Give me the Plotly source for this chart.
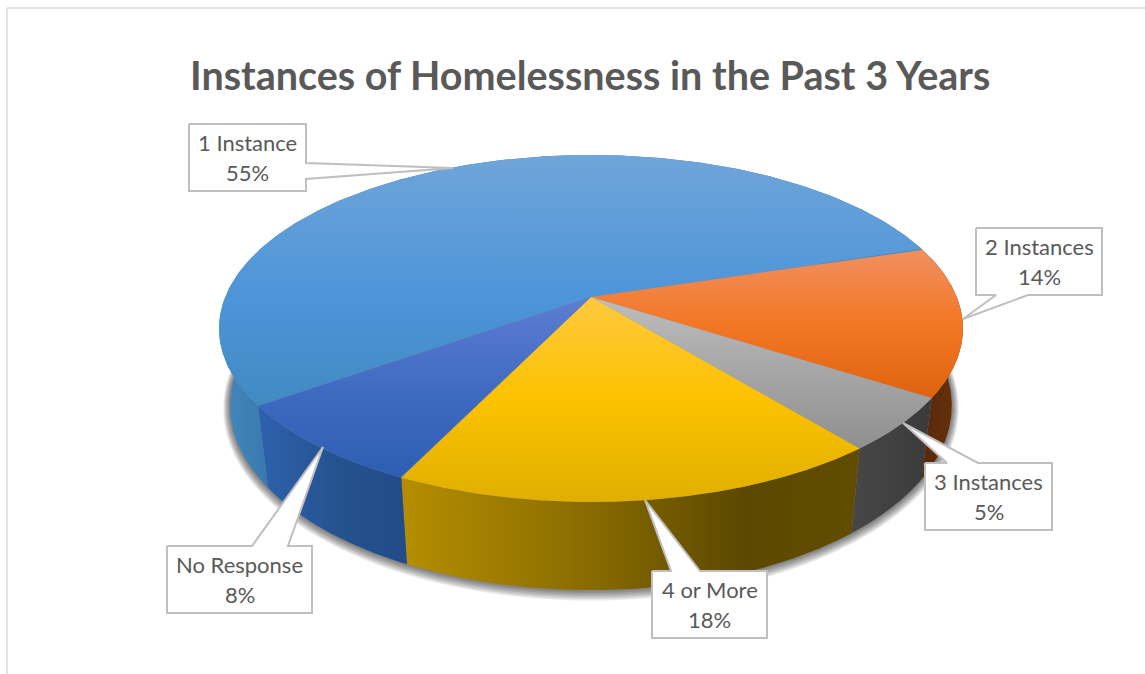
import numpy as np
import plotly.graph_objects as go

# Survey shares, in pie order (clockwise from the first slice)
categories = ["1 Instance", "2 Instances", "3 Instances", "4 or More", "No Response"]
shares = [55, 14, 5, 18, 8]
chart_title = "Instances of Homelessness in the Past 3 Years"

START_DEG = 215.5
W, H = 1145, 674
CX, CY = 591.0, 297.0
A, B, P = 365.8, 167.8, 0.1816

TEXT = "#595959"
EDGE = "#bfbfbf"

top_scales = [
    [(0, "#6fa5da"), (0.55, "#4d94d8"), (1, "#4088c0")],
    [(0, "#f09060"), (0.5, "#f37726"), (1, "#e0640f")],
    [(0, "#bdbdbd"), (1, "#8f8f8f")],
    [(0, "#ffc93f"), (0.5, "#fcc200"), (1, "#dfae00")],
    [(0, "#5d7dd2"), (0.55, "#3e69c1"), (1, "#2c5eb3")],
]
top_spans = [(155, 420), (250, 395), (297, 450), (297, 503), (297, 480)]
wall_scales = [
    [(0, "#4289bf"), (1, "#3a78ad")],
    [(0, "#58290a"), (1, "#6a330c")],
    [(0, "#474747"), (1, "#3a3a3a")],
    [(0, "#b48d00"), (0.35, "#8f7000"), (0.75, "#5c4800"), (1, "#614c00")],
    [(0, "#2e60ad"), (0.5, "#25528f"), (1, "#224a88")],
]
wall_spans = [(219, 270), (925, 963), (852, 935), (407, 858), (260, 412)]

# Callout layout: box left, right, top, bottom, which box edge carries the
# pointer, the pointer's two base positions along that edge, and its tip
callouts = [
    dict(box=(189, 306, 124, 191), side="right", base=(163, 179), tip=(453, 168)),
    dict(box=(976, 1102, 228, 295), side="bottom", base=(996, 1028), tip=(963, 319)),
    dict(box=(925, 1052, 463, 530), side="top", base=(947, 978), tip=(903, 423)),
    dict(box=(652, 767, 571, 638), side="top", base=(671, 700), tip=(645, 500)),
    dict(box=(167, 312, 546, 613), side="top", base=(252, 288), tip=(323, 447)),
]


def project_top(theta):
    """Perspective projection of the unit circle onto the pie's top face."""
    u, v = np.cos(theta), np.sin(theta)
    w = 1 + P * v
    return CX + A * u / w, CY - B * v / w


def project_bottom(theta):
    """Lower rim of the pie: the top rim pushed down and slightly inward."""
    x, y = project_top(theta)
    return CX + 0.97 * (x - CX), CY + 75 + 1.064 * (y - CY)


# Slice boundaries follow directly from the shares, running clockwise
edges = np.radians(START_DEG - 3.6 * np.cumsum([0] + shares))

fig = go.Figure()

# Soft drop shadow built from stacked translucent outlines of the lower rim
ring = np.linspace(0, 2 * np.pi, 361)
bx, by = project_bottom(ring)
for grow in range(7, 0, -1):
    fig.add_trace(go.Scatter(
        x=CX + (bx - CX) * (1 + grow / 360),
        y=by.mean() + (by - by.mean()) * (1 + grow / 170) + 0.3 * grow,
        mode="lines", line=dict(width=0), fill="toself",
        fillcolor="rgba(0,0,0,0.085)", hoverinfo="skip",
    ))

# Outer walls
for i in range(len(shares)):
    t = np.linspace(edges[i], edges[i + 1], 240)
    tx, ty = project_top(t)
    lx, ly = project_bottom(t[::-1])
    fig.add_trace(go.Scatter(
        x=np.r_[tx, lx, tx[0]], y=np.r_[ty, ly, ty[0]],
        mode="lines", line=dict(width=0), fill="toself", hoverinfo="skip",
        fillgradient=dict(type="horizontal", colorscale=wall_scales[i],
                          start=wall_spans[i][0], stop=wall_spans[i][1]),
    ))

# Top-face slices
for i in range(len(shares)):
    t = np.linspace(edges[i], edges[i + 1], 240)
    tx, ty = project_top(t)
    fig.add_trace(go.Scatter(
        x=np.r_[CX, tx, CX], y=np.r_[CY, ty, CY],
        mode="lines", line=dict(width=0), fill="toself", hoverinfo="skip",
        fillgradient=dict(type="vertical", colorscale=top_scales[i],
                          start=top_spans[i][0], stop=top_spans[i][1]),
    ))

# Callout boxes and their labels
annotations = [dict(
    text=f"<b>{chart_title}</b>", x=590, y=74.5, xref="x", yref="y",
    showarrow=False, xanchor="center", yanchor="middle",
    font=dict(family="Lato", size=39.5, color=TEXT),
)]
for name, value, c in zip(categories, shares, callouts):
    x0, x1, y0, y1 = c["box"]
    p, q = c["base"]
    tx, ty = c["tip"]
    if c["side"] == "right":
        xs = [x0, x1, x1, tx, x1, x1, x0, x0]
        ys = [y0, y0, p, ty, q, y1, y1, y0]
    elif c["side"] == "bottom":
        xs = [x0, x1, x1, q, tx, p, x0, x0]
        ys = [y0, y0, y1, y1, ty, y1, y1, y0]
    else:
        xs = [x0, p, tx, q, x1, x1, x0, x0]
        ys = [y0, y0, ty, y0, y0, y1, y1, y0]
    fig.add_trace(go.Scatter(
        x=xs, y=ys, mode="lines", line=dict(color=EDGE, width=2),
        fill="toself", fillcolor="white", hoverinfo="skip",
    ))
    mid = (x0 + x1) / 2
    for label, dy in ((name, 18.5), (f"{value}%", 48.5)):
        annotations.append(dict(
            text=label, x=mid, y=y0 + dy, xref="x", yref="y",
            showarrow=False, xanchor="center", yanchor="middle",
            font=dict(family="Lato", size=22, color=TEXT),
        ))

frame = dict(color="#d9d9d9", width=1.5)
fig.update_layout(
    width=W, height=H, autosize=False,
    margin=dict(l=0, r=0, t=0, b=0),
    paper_bgcolor="white", plot_bgcolor="white",
    showlegend=False, hovermode=False,
    xaxis=dict(range=[0, W], visible=False, fixedrange=True),
    yaxis=dict(range=[H, 0], visible=False, fixedrange=True),
    annotations=annotations,
    shapes=[
        dict(type="line", xref="x", yref="y", x0=7, x1=7, y0=8, y1=H, line=frame),
        dict(type="line", xref="x", yref="y", x0=7, x1=W, y0=8, y1=8, line=frame),
    ],
)

fig.write_html("out.html", config=dict(displayModeBar=False))
